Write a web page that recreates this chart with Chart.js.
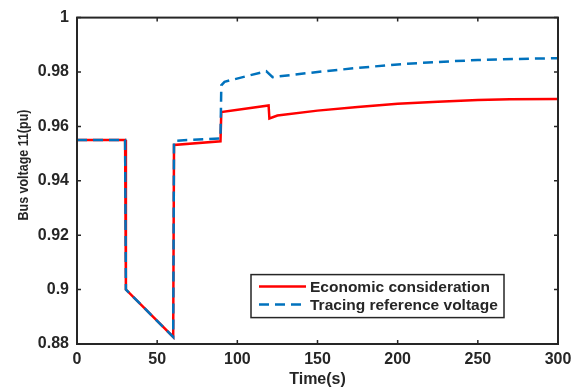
<!DOCTYPE html>
<html><head><meta charset="utf-8">
<script src="https://cdn.jsdelivr.net/npm/chart.js@4/dist/chart.umd.min.js"></script>
<style>html,body{margin:0;padding:0;background:#fff}#wrap{width:579px;height:392px}</style>
</head><body><div id="wrap"><canvas id="c" width="579" height="392"></canvas></div>
<script>
const seriesNames = ["Economic consideration", "Tracing reference voltage"];
const econT = [0,30,30.5,60,60.5,89.5,90,119.5,120,125,150,175,200,225,250,270,300];
const econV = [0.955,0.955,0.900,0.8826,0.9532,0.9545,0.9653,0.9677,0.9629,0.9640,0.9658,0.9671,0.9683,0.9691,0.9697,0.9700,0.9701];
const traceT = [0,30,30.5,60,60.5,89.5,90,92,118,122,135,150,175,200,225,250,275,300];
const traceV = [0.955,0.955,0.900,0.8826,0.9547,0.9556,0.9751,0.9764,0.9803,0.9781,0.9790,0.9800,0.9815,0.9828,0.9837,0.9844,0.9848,0.9851];
const xTicks = [0,50,100,150,200,250,300];
const yTicks = [0.88,0.90,0.92,0.94,0.96,0.98,1.00];
const xTitle = "Time(s)";
const yTitle = "Bus voltage 11(pu)";

const FONT = "'Liberation Sans', Arial, sans-serif";
const RED = "#ff0000", BLUE = "#0072bd", AX = "#262626";

const toPts = (t, v) => t.map((x, i) => ({x, y: v[i]}));

const framePlugin = {
  id: 'frame',
  afterDatasetsDraw(chart) {
    const {ctx, chartArea: a, scales: {x, y}} = chart;
    ctx.save();
    ctx.strokeStyle = AX; ctx.lineWidth = 2;
    ctx.strokeRect(a.left, a.top, a.right - a.left, a.bottom - a.top);
    ctx.lineWidth = 1.5;
    const L = 4;
    ctx.beginPath();
    xTicks.forEach(v => {
      const px = x.getPixelForValue(v);
      ctx.moveTo(px, a.bottom); ctx.lineTo(px, a.bottom - L);
      ctx.moveTo(px, a.top); ctx.lineTo(px, a.top + L);
    });
    yTicks.forEach(v => {
      const py = y.getPixelForValue(v);
      ctx.moveTo(a.left, py); ctx.lineTo(a.left + L, py);
      ctx.moveTo(a.right, py); ctx.lineTo(a.right - L, py);
    });
    ctx.stroke();
    // y-axis title
    ctx.save();
    ctx.translate(24, y.getPixelForValue(0.9458));
    ctx.rotate(-Math.PI / 2);
    ctx.scale(0.86, 1);
    ctx.font = "bold 14.5px " + FONT;
    ctx.fillStyle = AX; ctx.textAlign = 'center'; ctx.textBaseline = 'middle';
    ctx.fillText(yTitle, 0, 0);
    ctx.restore();
    // legend
    const bx = a.left + 174, by = a.top + 257, bw = 253, bh = 43;
    ctx.fillStyle = '#fff';
    ctx.fillRect(bx, by, bw, bh);
    ctx.lineWidth = 1.5; ctx.strokeStyle = AX;
    ctx.strokeRect(bx, by, bw, bh);
    ctx.font = "bold 15.5px " + FONT;
    ctx.textBaseline = 'middle'; ctx.textAlign = 'left';
    const rows = [{c: RED, dash: [], t: seriesNames[0], y: by + 12}, {c: BLUE, dash: [10, 6], t: seriesNames[1], y: by + 30}];
    rows.forEach(r => {
      ctx.strokeStyle = r.c; ctx.lineWidth = 2.5; ctx.setLineDash(r.dash);
      ctx.beginPath(); ctx.moveTo(bx + 8, r.y); ctx.lineTo(bx + 55, r.y); ctx.stroke();
      ctx.setLineDash([]);
      ctx.fillStyle = AX; ctx.fillText(r.t, bx + 59, r.y + 1);
    });
    ctx.restore();
  }
};

new Chart(document.getElementById('c'), {
  type: 'line',
  data: {
    datasets: [
      {label: seriesNames[0], data: toPts(econT, econV), borderColor: RED, borderWidth: 2.5, pointRadius: 0, tension: 0, order: 2, fill: false},
      {label: seriesNames[1], data: toPts(traceT, traceV), borderColor: BLUE, borderWidth: 2.5, borderDash: [10, 6], pointRadius: 0, tension: 0, order: 1, fill: false}
    ]
  },
  options: {
    responsive: false, animation: false,
    layout: {padding: {top: 11, right: 21, left: 0, bottom: 0}},
    plugins: {legend: {display: false}, tooltip: {enabled: false}},
    scales: {
      x: {
        type: 'linear', min: 0, max: 300,
        afterBuildTicks: s => { s.ticks = xTicks.map(v => ({value: v})); },
        afterFit: s => { s.height = 48; },
        grid: {display: false, drawTicks: false},
        border: {display: false},
        ticks: {color: AX, padding: 6, font: {family: FONT, size: 16, weight: 'bold'}, maxRotation: 0},
        title: {display: true, text: xTitle, color: AX, padding: {top: 0, bottom: 3}, font: {family: FONT, size: 16, weight: 'bold'}}
      },
      y: {
        type: 'linear', min: 0.88, max: 1.0,
        afterBuildTicks: s => { s.ticks = yTicks.map(v => ({value: v})); },
        afterFit: s => { s.width = 77; },
        grid: {display: false, drawTicks: false},
        border: {display: false},
        ticks: {color: AX, padding: 8, font: {family: FONT, size: 16, weight: 'bold'}, callback: v => String(Number(v.toFixed(2)))}
      }
    }
  },
  plugins: [framePlugin]
});
</script></body></html>
